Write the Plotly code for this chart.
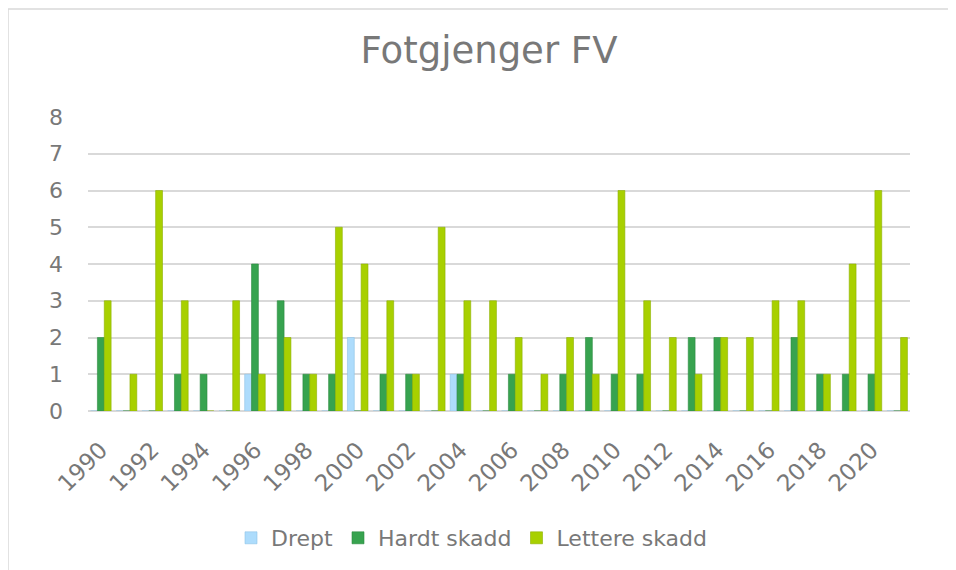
import plotly.graph_objects as go

years = [str(y) for y in range(1990, 2022)]
drept = [0, 0, 0, 0, 0, 0, 1, 0, 0, 0, 2, 0, 0, 0, 1, 0,
         0, 0, 0, 0, 0, 0, 0, 0, 0, 0, 0, 0, 0, 0, 0, 0]
hardt = [2, 0, 0, 1, 1, 0, 4, 3, 1, 1, 0, 1, 1, 0, 1, 0,
         1, 0, 1, 2, 1, 1, 0, 2, 2, 0, 0, 2, 1, 1, 1, 0]
lettere = [3, 1, 6, 3, 0, 3, 1, 2, 1, 5, 4, 3, 1, 5, 3, 3,
           2, 1, 2, 1, 6, 3, 2, 1, 2, 2, 3, 3, 1, 4, 6, 2]
tick_years = [str(y) for y in range(1990, 2022, 2)]

FONT = "DejaVu Sans"
GRAY = "#787878"

# page body has an 8px margin; figure sized/positioned to compensate
W, H = 948, 562
L, T, R, B = 80, 109, 46, 159
PW, PH = W - L - R, H - T - B

fig = go.Figure()
fig.add_trace(go.Bar(name="Drept", x=years, y=drept, marker_color="#ADDCFC",
                     marker_line=dict(color="#8FC3E6", width=0.6)))
fig.add_trace(go.Bar(name="Hardt skadd", x=years, y=hardt, marker_color="#37A34F",
                     marker_line=dict(color="#2B8A40", width=0.6)))
fig.add_trace(go.Bar(name="Lettere skadd", x=years, y=lettere, marker_color="#A8D000",
                     marker_line=dict(color="#8DB000", width=0.6)))

fig.update_layout(
    width=W, height=H,
    paper_bgcolor="white", plot_bgcolor="white",
    margin=dict(l=L, r=R, t=T, b=B, autoexpand=False),
    barmode="group", bargap=0.2, bargroupgap=0,
    font=dict(family=FONT, color=GRAY),
    title=dict(text="Fotgjenger FV", x=(489 - 8) / W, xanchor="center",
               y=1 - 42 / H, yref="container", yanchor="middle",
               font=dict(family=FONT, size=37, color=GRAY)),
    legend=dict(orientation="h", x=(472 - 8 - L) / PW, xanchor="center",
                y=-(538 - 411) / PH, yanchor="middle",
                font=dict(family=FONT, size=22, color=GRAY),
                itemwidth=30, traceorder="normal"),
    xaxis=dict(type="category", tickmode="array", tickvals=tick_years,
               ticktext=tick_years, tickangle=-45, showgrid=False,
               tickfont=dict(family=FONT, size=23, color=GRAY),
               ticklabelstandoff=20,
               showline=False, ticks=""),
    yaxis=dict(range=[0, 8], dtick=1, showgrid=True, gridcolor="#D9D9D9",
               gridwidth=2, zeroline=True, zerolinecolor="#D9D9D9",
               zerolinewidth=2, ticks="", ticklabelstandoff=24,
               tickfont=dict(family=FONT, size=22, color=GRAY)),
    shapes=[dict(type="rect", xref="paper", yref="paper",
                 x0=-L / PW, x1=1.2, y0=-0.8, y1=(PH + T - 1) / PH,
                 line=dict(color="#D9D9D9", width=1.5), fillcolor="rgba(0,0,0,0)",
                 layer="below")],
)

fig.write_html("out.html")
